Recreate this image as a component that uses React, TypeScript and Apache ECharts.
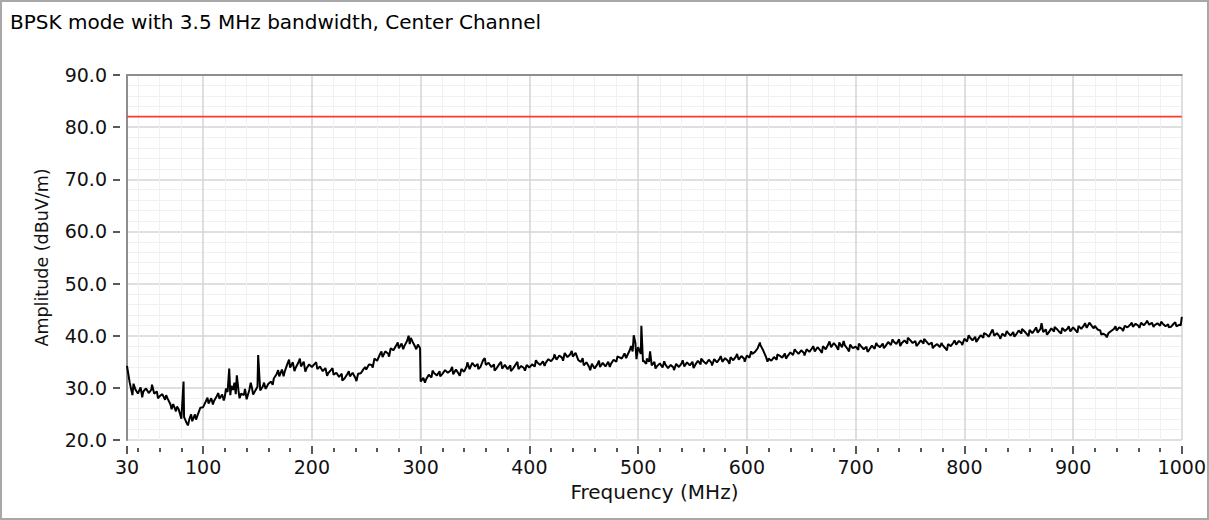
import React, { useEffect, useRef } from "react";
import * as echarts from "echarts";

const TITLE = "BPSK mode with 3.5 MHz bandwidth, Center Channel";
const X_NAME = "Frequency (MHz)";
const Y_NAME = "Amplitude (dBuV/m)";

const X_MIN = 30;
const X_MAX = 1000;
const X_MAJOR = [30, 100, 200, 300, 400, 500, 600, 700, 800, 900, 1000];
const X_MINOR = [40, 60, 80, 120, 140, 160, 180, 220, 240, 260, 280, 320, 340, 360, 380, 420, 440, 460, 480, 520, 540, 560, 580, 620, 640, 660, 680, 720, 740, 760, 780, 820, 840, 860, 880, 920, 940, 960, 980];
const Y_MIN = 20;
const Y_MAX = 90;
const Y_STEP = 10;

const LIMIT_DB = 82.0;

// Measured trace, sampled every 2.5 MHz starting at 30 MHz
const FREQ_START = 30;
const FREQ_STEP = 2.5;
const AMP_30_97 = [34.2, 31.0, 28.6, 29.8, 28.9, 30.1, 29.3, 29.9, 29.0, 29.7, 28.9, 29.3, 28.4, 28.8, 27.7, 27.9, 26.8, 26.9, 25.5, 25.9, 24.1, 24.4, 23.2, 24.1, 23.6, 24.9, 24.8, 26.2];
const AMP_100_197 = [26.3, 27.4, 27.0, 28.0, 27.5, 28.4, 27.9, 28.7, 28.3, 29.2, 28.6, 29.6, 28.8, 29.5, 28.9, 28.6, 27.8, 29.6, 29.9, 29.3, 30.2, 29.5, 30.3, 29.8, 30.8, 31.2, 31.8, 32.6, 32.2, 33.5, 33.1, 34.6, 33.9, 34.9, 33.8, 34.8, 34.1, 35.0, 33.7, 34.5];
const AMP_200_297 = [34.0, 34.6, 33.6, 34.1, 33.2, 33.8, 32.8, 33.4, 32.5, 32.9, 32.1, 32.7, 31.8, 32.6, 32.2, 32.9, 31.9, 32.7, 32.8, 33.6, 33.5, 34.5, 34.4, 35.6, 35.2, 36.4, 35.9, 37.0, 36.6, 37.6, 37.2, 38.1, 37.6, 38.5, 38.0, 39.0, 38.4, 38.9, 37.9, 38.3];
const AMP_300_397 = [31.2, 31.9, 31.6, 32.5, 32.0, 32.8, 32.4, 33.2, 32.7, 33.4, 32.9, 33.3, 32.6, 33.5, 32.7, 33.6, 33.1, 34.2, 33.6, 34.8, 34.1, 34.6, 34.0, 35.3, 34.4, 34.8, 34.0, 34.5, 33.8, 34.6, 33.7, 34.4, 33.6, 34.3, 33.7, 34.5, 33.6, 34.2, 33.8, 34.4];
const AMP_400_497 = [33.9, 34.5, 34.1, 34.8, 34.4, 35.1, 34.8, 35.5, 35.1, 35.8, 35.4, 36.2, 35.8, 36.7, 35.9, 36.4, 36.0, 36.7, 35.3, 35.0, 34.3, 34.9, 34.0, 34.6, 33.7, 34.5, 34.0, 34.8, 34.1, 35.0, 34.6, 35.4, 35.0, 35.9, 35.6, 36.6, 36.2, 37.3, 37.0, 38.6];
const AMP_500_597 = [37.8, 36.5, 35.2, 34.6, 35.0, 34.3, 35.0, 34.2, 34.7, 33.9, 34.5, 33.8, 34.4, 33.9, 34.6, 34.0, 34.7, 34.1, 34.9, 34.3, 35.0, 34.4, 35.2, 34.5, 35.1, 34.6, 35.4, 34.8, 35.5, 34.9, 35.6, 35.0, 35.7, 35.2, 35.9, 35.3, 36.0, 35.4, 36.1, 35.6];
const AMP_600_697 = [36.2, 35.8, 36.5, 36.9, 37.6, 38.2, 37.2, 36.0, 35.6, 35.2, 35.9, 35.4, 36.2, 35.8, 36.6, 36.1, 36.8, 36.3, 37.1, 36.5, 37.2, 36.7, 37.4, 36.9, 37.6, 37.0, 37.8, 37.2, 38.0, 37.4, 38.4, 37.8, 38.6, 37.9, 38.7, 37.8, 38.2, 37.5, 38.3, 37.6];
const AMP_700_797 = [37.9, 37.3, 38.0, 37.4, 37.9, 37.3, 38.1, 37.5, 38.2, 37.8, 38.5, 38.0, 38.8, 38.2, 38.9, 38.4, 39.3, 38.6, 39.1, 38.5, 39.2, 38.6, 39.0, 38.4, 39.1, 38.5, 38.9, 38.3, 38.7, 38.0, 38.4, 37.8, 38.2, 37.6, 38.4, 38.0, 38.7, 38.3, 39.0, 38.6];
const AMP_800_897 = [39.4, 38.9, 39.7, 39.1, 39.8, 39.3, 40.1, 39.6, 40.3, 39.8, 40.8, 40.0, 40.5, 39.8, 40.4, 39.9, 40.6, 40.0, 40.7, 40.2, 41.0, 40.4, 40.9, 40.3, 41.1, 40.5, 41.2, 40.6, 41.3, 40.7, 41.2, 40.6, 41.4, 40.8, 41.3, 40.7, 41.5, 40.9, 41.4, 40.8];
const AMP_900_997 = [41.6, 41.0, 41.9, 41.3, 42.0, 41.5, 42.5, 41.8, 41.9, 41.2, 41.0, 40.4, 40.1, 40.5, 40.9, 41.3, 41.0, 41.6, 41.3, 41.9, 41.6, 42.1, 41.7, 42.3, 41.9, 42.5, 42.0, 42.6, 42.1, 42.5, 42.0, 42.4, 41.9, 42.3, 41.8, 42.2, 41.7, 42.3, 41.8, 42.1];
const AMP_1000 = [43.6];

// Narrow spikes / steps between the regular samples: [MHz, dBuV/m]
const SPIKES = [
  [76, 26.4], [82, 31.2], [124, 33.7], [128.8, 31.0], [131, 32.4], [150.6, 36.3],
  [289, 40.0], [299.5, 37.6], [496, 40.1], [498.5, 35.5], [503, 41.9],
  [504.5, 35.0], [511, 37.0], [612, 38.7], [871, 42.4], [999, 42.0],
];

// Small noise excursions between samples: [MHz, dBuV/m]
const JITTER = [
  [36, 30.8], [44, 28.2], [53, 30.6], [58.5, 28.0], [66, 28.6], [71, 25.9], [86, 22.8], [89, 24.9], [93.5, 23.9],
  [104, 28.1], [109, 26.8], [114, 29.0], [119, 27.6], [121, 29.9], [126, 30.4], [133.5, 28.0], [138.5, 29.8],
  [143.8, 31.0], [146, 28.7], [156, 31.0], [164, 30.6], [169, 33.4], [174, 32.2], [179, 35.4], [184, 33.2],
  [189, 35.6], [194, 33.1], [204, 34.9], [214, 32.3], [219, 33.8], [228, 31.4], [234, 33.2], [241, 31.3],
  [249, 34.0], [256, 33.9], [264, 37.0], [271, 36.0], [279, 38.7], [284, 37.4], [291, 39.6], [296, 37.4],
  [304, 31.0], [311, 33.3], [318, 32.2], [329, 34.0], [336, 32.3], [343, 34.9], [353, 33.6], [359, 35.7],
  [368, 33.3], [374, 35.0], [383, 33.2], [389, 35.0], [396, 33.3],
  [406, 35.3], [414, 34.2], [423, 36.4], [431, 35.2], [439, 37.1], [449, 35.7], [456, 33.4], [464, 35.2],
  [474, 34.0], [481, 36.0], [489, 35.7], [493.5, 38.0], [508, 35.6], [516, 33.7], [524, 35.1], [533, 33.4],
  [541, 35.3], [551, 33.8], [558, 35.6], [568, 34.3], [576, 36.1], [584, 34.6], [591, 36.5], [598, 35.0],
  [604, 37.0], [619, 35.0], [628, 36.4], [636, 35.6], [644, 37.4], [653, 36.2], [661, 38.0], [669, 36.7],
  [676, 38.9], [684, 37.3], [689, 39.0], [694, 37.0], [703, 38.5], [711, 36.9], [719, 38.6], [726, 37.6],
  [734, 39.3], [741, 38.0], [748, 39.6], [756, 38.0], [763, 39.4], [771, 37.6], [779, 38.6], [784, 37.2],
  [791, 39.1], [798, 38.2], [804, 40.1], [811, 38.8], [818, 40.5], [826, 41.2], [833, 39.4], [839, 40.9],
  [846, 39.8], [853, 41.3], [859, 39.9], [866, 41.6], [876, 40.2], [883, 41.7], [889, 40.4], [896, 41.8],
  [904, 40.6], [911, 42.4], [919, 41.4], [926, 40.2], [931, 39.7], [939, 41.8], [946, 40.9], [954, 42.5],
  [961, 41.5], [968, 42.9], [974, 41.7], [981, 42.7], [988, 41.6], [994, 42.6],
];

const AMPS = [
  ...AMP_30_97, ...AMP_100_197, ...AMP_200_297, ...AMP_300_397, ...AMP_400_497,
  ...AMP_500_597, ...AMP_600_697, ...AMP_700_797, ...AMP_800_897, ...AMP_900_997, ...AMP_1000,
];

const FONT = "DejaVu Sans";

export default function App() {
  const ref = useRef<HTMLDivElement>(null);
  useEffect(() => {
    if (!ref.current) return;
    const chart = echarts.init(ref.current, undefined, { renderer: "svg" });
    const trace: number[][] = AMPS.map((v, i) => [FREQ_START + i * FREQ_STEP, v]);
    SPIKES.forEach((p) => trace.push([p[0], p[1]]));
    JITTER.forEach((p) => trace.push([p[0], p[1]]));
    trace.sort((a, b) => a[0] - b[0]);

    const tickLabel = { fontFamily: FONT, fontSize: 19, lineHeight: 18, color: "#111" };

    chart.setOption({
      animation: false,
      backgroundColor: "#fff",
      textStyle: { fontFamily: FONT },
      title: {
        text: TITLE,
        left: 10,
        top: 12,
        padding: 0,
        textStyle: { fontFamily: FONT, fontSize: 20, fontWeight: "normal", color: "#000" },
      },
      graphic: [
        {
          type: "rect",
          shape: { x: 1, y: 1, width: 1207, height: 518 },
          style: { fill: "none", stroke: "#a8a8a8", lineWidth: 2 },
          silent: true,
        },
      ],
      grid: { left: 127, right: 26, top: 75, bottom: 80, containLabel: false },
      xAxis: [
        {
          type: "value",
          min: X_MIN,
          max: X_MAX,
          position: "bottom",
          offset: 6,
          axisLine: { show: false },
          axisTick: { show: true, customValues: X_MAJOR, length: 8, lineStyle: { color: "#222", width: 1.5 } },
          axisLabel: { customValues: X_MAJOR, formatter: (v: number) => String(v), margin: 12, ...tickLabel },
          splitLine: { show: true, lineStyle: { color: "#d4d4d4", width: 1.5 } },
          name: X_NAME,
          nameLocation: "middle",
          nameGap: 36,
          nameMoveOverlap: false,
          nameTextStyle: { fontFamily: FONT, fontSize: 20, lineHeight: 20, color: "#111" },
        },
        {
          type: "value",
          min: X_MIN,
          max: X_MAX,
          position: "bottom",
          offset: 8,
          axisLine: { show: false },
          axisTick: { show: true, customValues: X_MINOR, length: 4, lineStyle: { color: "#222", width: 1.5 } },
          axisLabel: { show: false },
          splitLine: { show: true, lineStyle: { color: "#f1f1f1", width: 1 } },
        },
        {
          type: "value",
          min: X_MIN,
          max: X_MAX,
          position: "top",
          axisLine: { show: true, lineStyle: { color: "#8e8e8e", width: 2 } },
          axisTick: { show: false },
          axisLabel: { show: false },
          splitLine: { show: false },
        },
      ],
      yAxis: [
        {
          type: "value",
          min: Y_MIN,
          max: Y_MAX,
          interval: Y_STEP,
          position: "left",
          offset: 7,
          axisLine: { show: false },
          axisTick: { show: true, length: 7, lineStyle: { color: "#222", width: 1.5 } },
          axisLabel: { formatter: (v: number) => v.toFixed(1), margin: 13, ...tickLabel },
          splitLine: { show: true, lineStyle: { color: "#d4d4d4", width: 1.5 } },
          minorTick: { show: false, splitNumber: 5 },
          minorSplitLine: { show: true, lineStyle: { color: "#f1f1f1", width: 1 } },
          name: Y_NAME,
          nameLocation: "middle",
          nameRotate: 90,
          nameGap: 69,
          nameMoveOverlap: false,
          nameTextStyle: { fontFamily: FONT, fontSize: 17.5, color: "#111" },
        },
        {
          type: "value",
          min: Y_MIN,
          max: Y_MAX,
          position: "left",
          axisLine: { show: true, lineStyle: { color: "#8e8e8e", width: 2 } },
          axisTick: { show: false },
          axisLabel: { show: false },
          splitLine: { show: false },
        },
      ],
      series: [
        {
          type: "line",
          name: "Limit",
          xAxisIndex: 0,
          yAxisIndex: 0,
          data: [[X_MIN, LIMIT_DB], [X_MAX, LIMIT_DB]],
          showSymbol: false,
          lineStyle: { color: "#ff3b2f", width: 1.8 },
          silent: true,
        },
        {
          type: "line",
          name: "Trace",
          xAxisIndex: 0,
          yAxisIndex: 0,
          data: trace,
          showSymbol: false,
          lineStyle: { color: "#000", width: 2 },
          silent: true,
        },
      ],
    });
    return () => chart.dispose();
  }, []);
  return (
    <div
      ref={ref}
      style={{ position: "fixed", left: 0, top: 0, width: 1209, height: 520, background: "#fff" }}
    />
  );
}
